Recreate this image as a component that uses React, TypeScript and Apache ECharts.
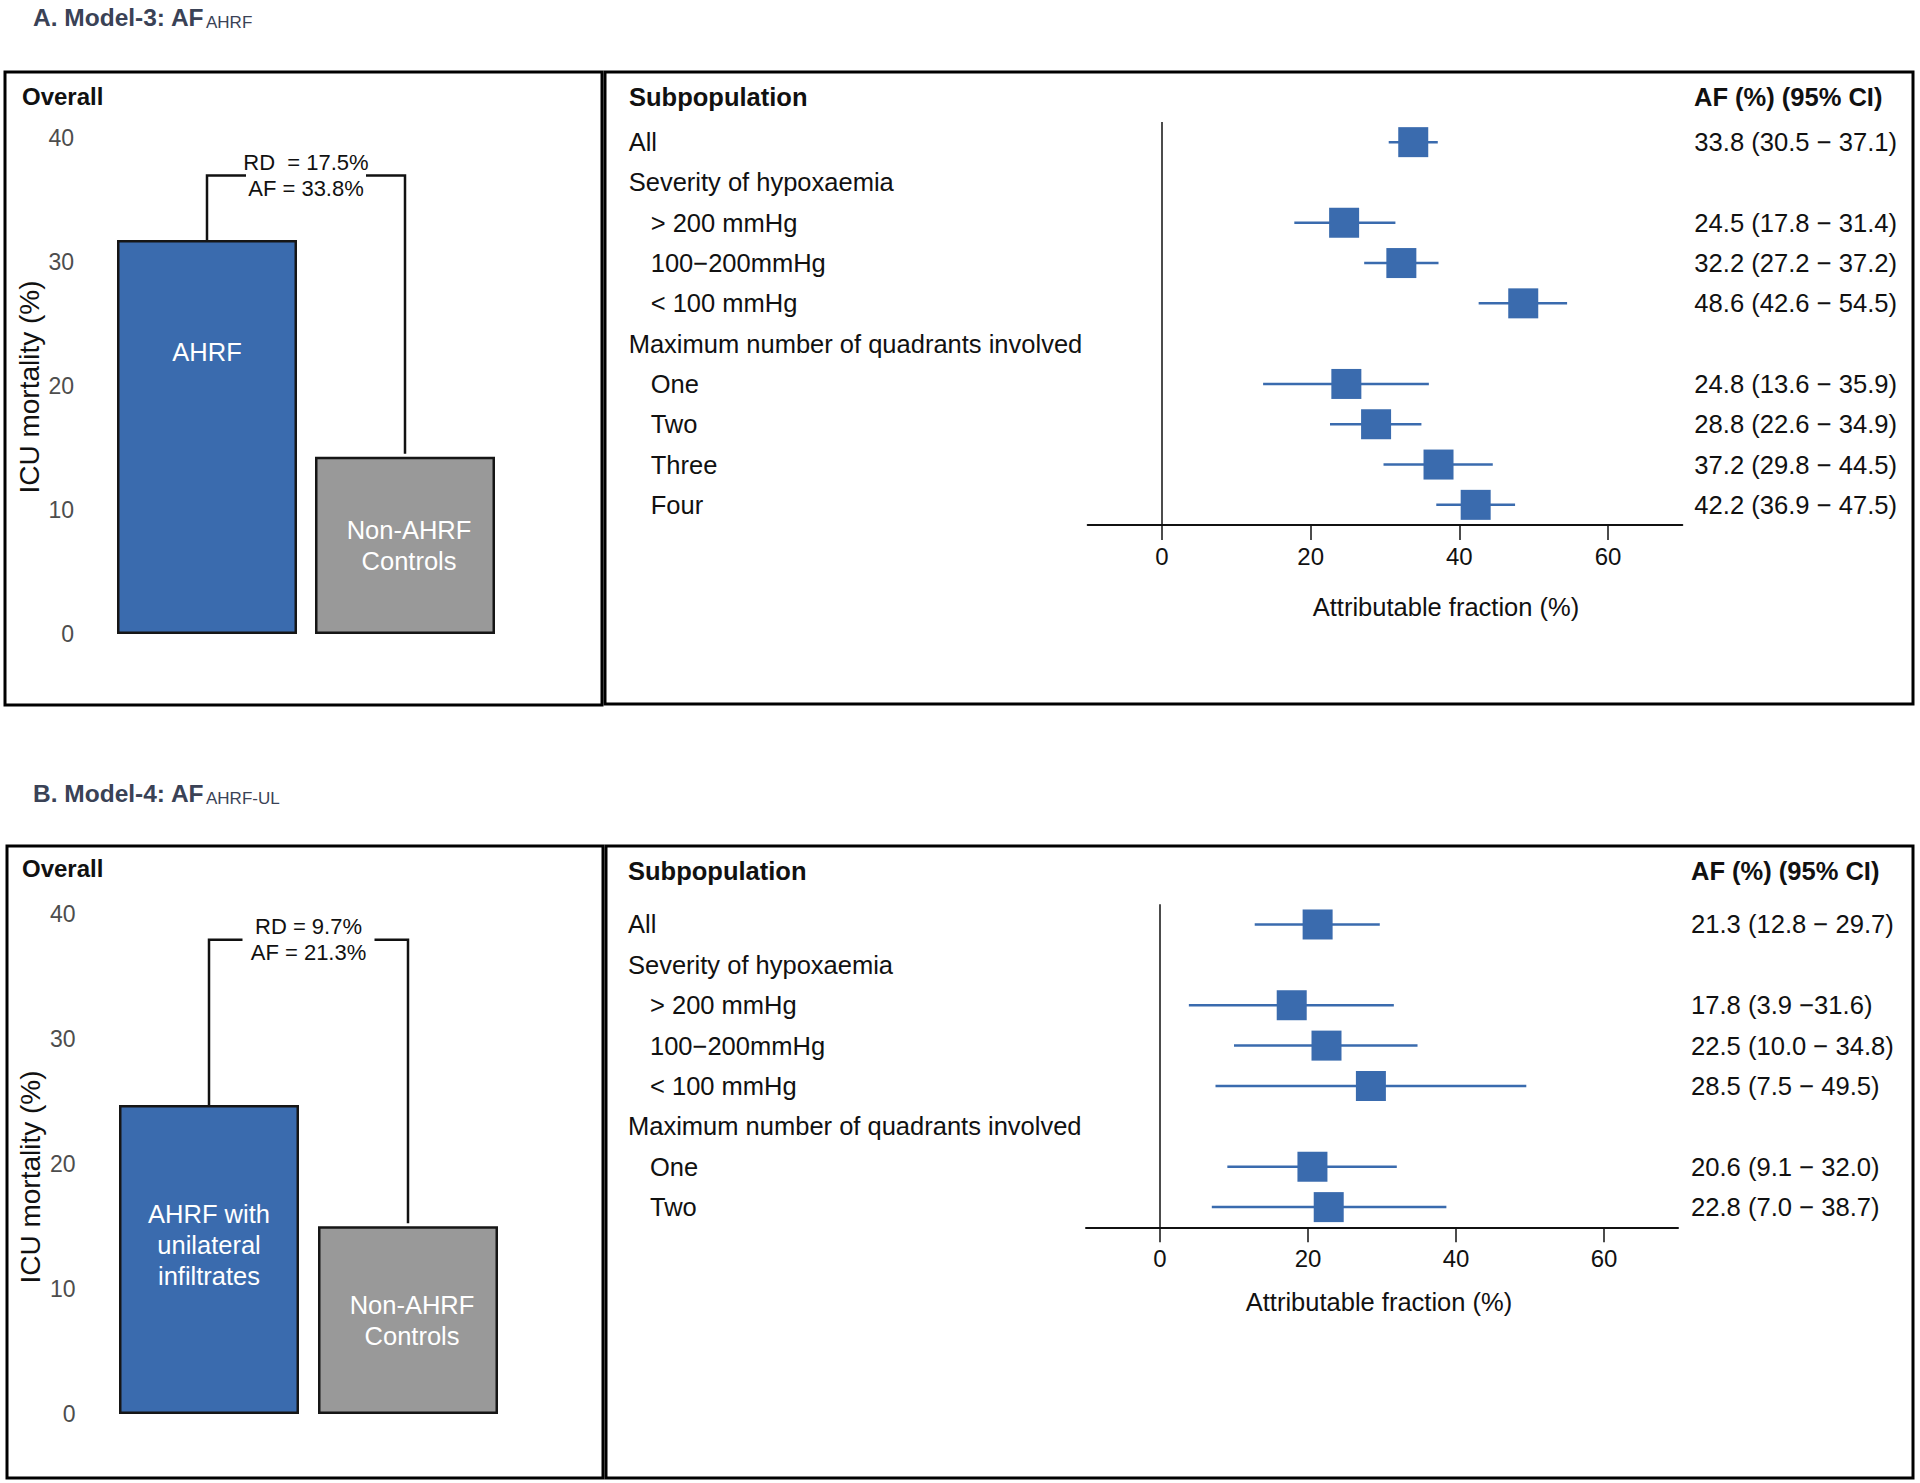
import React, { useEffect, useRef } from 'react';
import * as echarts from 'echarts';

const FONT = '"Liberation Sans", Arial, Helvetica, sans-serif';
const BLUE = '#3a6bae';
const GREY = '#999999';
const INK = '#111111';

// ---------- Panel A (Model-3) ----------
const barCatsA = ['AHRF', 'Non-AHRF\nControls'];
const mortalityA = [31.8, 14.3];
const bracketLevelA = 37.0;
const bracketTextA = ['RD  = 17.5%', 'AF = 33.8%'];
const subgroupsA = [
  'All',
  'Severity of hypoxaemia',
  '> 200 mmHg',
  '100\u2212200mmHg',
  '< 100 mmHg',
  'Maximum number of quadrants involved',
  'One',
  'Two',
  'Three',
  'Four',
];
const indentA = [false, false, true, true, true, false, true, true, true, true];
const afEstA = [33.8, null, 24.5, 32.2, 48.6, null, 24.8, 28.8, 37.2, 42.2];
const afLowA = [30.5, null, 17.8, 27.2, 42.6, null, 13.6, 22.6, 29.8, 36.9];
const afHighA = [37.1, null, 31.4, 37.2, 54.5, null, 35.9, 34.9, 44.5, 47.5];
const ciLabelsA = [
  '33.8 (30.5 \u2212 37.1)',
  '',
  '24.5 (17.8 \u2212 31.4)',
  '32.2 (27.2 \u2212 37.2)',
  '48.6 (42.6 \u2212 54.5)',
  '',
  '24.8 (13.6 \u2212 35.9)',
  '28.8 (22.6 \u2212 34.9)',
  '37.2 (29.8 \u2212 44.5)',
  '42.2 (36.9 \u2212 47.5)',
];

// ---------- Panel B (Model-4) ----------
const barCatsB = ['AHRF with\nunilateral\ninfiltrates', 'Non-AHRF\nControls'];
const mortalityB = [24.7, 15.0];
const bracketLevelB = 37.9;
const bracketTextB = ['RD = 9.7%', 'AF = 21.3%'];
const subgroupsB = [
  'All',
  'Severity of hypoxaemia',
  '> 200 mmHg',
  '100\u2212200mmHg',
  '< 100 mmHg',
  'Maximum number of quadrants involved',
  'One',
  'Two',
];
const indentB = [false, false, true, true, true, false, true, true];
const afEstB = [21.3, null, 17.8, 22.5, 28.5, null, 20.6, 22.8];
const afLowB = [12.8, null, 3.9, 10.0, 7.5, null, 9.1, 7.0];
const afHighB = [29.7, null, 31.6, 34.8, 49.5, null, 32.0, 38.7];
const ciLabelsB = [
  '21.3 (12.8 \u2212 29.7)',
  '',
  '17.8 (3.9 \u221231.6)',
  '22.5 (10.0 \u2212 34.8)',
  '28.5 (7.5 \u2212 49.5)',
  '',
  '20.6 (9.1 \u2212 32.0)',
  '22.8 (7.0 \u2212 38.7)',
];

const afTicks = [0, 20, 40, 60];

function forestRows(est: (number | null)[], lo: (number | null)[], hi: (number | null)[]) {
  const rows: number[][] = [];
  est.forEach((e, i) => {
    if (e !== null) rows.push([i, lo[i] as number, e, hi[i] as number]);
  });
  return rows;
}

function forestRender(size: number) {
  return (params: any, api: any) => {
    const row = api.value(0);
    const a = api.coord([api.value(1), row]);
    const e = api.coord([api.value(2), row]);
    const b = api.coord([api.value(3), row]);
    return {
      type: 'group',
      children: [
        { type: 'line', shape: { x1: a[0], y1: a[1], x2: b[0], y2: b[1] }, style: { stroke: BLUE, lineWidth: 2.5 } },
        { type: 'rect', shape: { x: e[0] - size / 2, y: e[1] - size / 2, width: size, height: size }, style: { fill: BLUE } },
      ],
    };
  };
}

function bracketRender(texts: string[], gapHalf: number) {
  return (params: any, api: any) => {
    const level = api.value(3);
    const baseL = api.coord([0, api.value(1)]);
    const baseR = api.coord([1, api.value(2)]);
    const topL = api.coord([0, level]);
    const topR = api.coord([1, level]);
    const mid = (topL[0] + topR[0]) / 2;
    const y = topL[1];
    const ls = { stroke: INK, lineWidth: 2.5, fill: 'none' };
    const ts = (t: string) => ({ text: t, fill: INK, fontSize: 22, fontFamily: FONT, align: 'center', verticalAlign: 'middle' });
    return {
      type: 'group',
      children: [
        { type: 'polyline', shape: { points: [[baseL[0], baseL[1]], [topL[0], y], [mid - gapHalf, y]] }, style: ls },
        { type: 'polyline', shape: { points: [[mid + gapHalf, y], [topR[0], y], [baseR[0], baseR[1] - 3]] }, style: ls },
        { type: 'text', x: mid, y: y - 13, style: ts(texts[0]) },
        { type: 'text', x: mid, y: y + 13, style: ts(texts[1]) },
      ],
    };
  };
}

function barData(vals: number[], firstLabelOffset: number) {
  return vals.map((v, i) => ({
    value: v,
    itemStyle: { color: i === 0 ? BLUE : GREY, borderColor: '#161616', borderWidth: 2.5 },
    label:
      i === 0
        ? { position: ['50%', firstLabelOffset], align: 'center', verticalAlign: 'middle' }
        : { position: 'inside', offset: [4, 0] },
  }));
}

const barLabel = {
  show: true,
  formatter: '{b}',
  color: '#ffffff',
  fontSize: 25.5,
  lineHeight: 31,
  fontFamily: FONT,
};

function barYAxis(grid: number) {
  return {
    type: 'value',
    gridIndex: grid,
    min: 0,
    max: 40,
    interval: 10,
    axisLine: { show: false },
    axisTick: { show: false },
    splitLine: { show: false },
    axisLabel: { fontSize: 23, color: '#4d4d4d', margin: 34, fontFamily: FONT },
  };
}

function afXAxis(grid: number) {
  return {
    type: 'value',
    gridIndex: grid,
    min: -10,
    max: 70,
    axisLine: { show: true, lineStyle: { color: INK, width: 2 } },
    axisTick: { show: true, customValues: afTicks, length: 15, inside: false, lineStyle: { color: INK, width: 1.5 } },
    axisLabel: { customValues: afTicks, fontSize: 24, color: INK, margin: 19, fontFamily: FONT },
    splitLine: { show: false },
  };
}

function labelYAxis(grid: number, cats: string[], indent: boolean[], margin: number) {
  return {
    type: 'category',
    gridIndex: grid,
    data: cats,
    inverse: true,
    position: 'left',
    axisLine: { show: false },
    axisTick: { show: false },
    axisLabel: {
      interval: 0,
      align: 'left',
      margin,
      formatter: (v: string, i: number) => (indent[i] ? `{i|${v}}` : `{m|${v}}`),
      rich: {
        m: { fontSize: 25.5, color: INK, fontFamily: FONT },
        i: { fontSize: 25.5, color: INK, fontFamily: FONT, padding: [0, 0, 0, 22] },
      },
    },
  };
}

function ciYAxis(grid: number, labels: string[], margin: number) {
  return {
    type: 'category',
    gridIndex: grid,
    data: labels,
    inverse: true,
    position: 'right',
    axisLine: { show: false },
    axisTick: { show: false },
    axisLabel: { interval: 0, align: 'left', margin, fontSize: 25.6, color: INK, fontFamily: FONT },
  };
}

function txt(text: string, x: number, y: number, extra: any = {}) {
  return {
    type: 'text',
    x,
    y,
    silent: true,
    style: {
      text,
      fill: INK,
      fontSize: 25.5,
      fontFamily: FONT,
      align: 'left',
      verticalAlign: 'middle',
      ...extra,
    },
  };
}

function box(x: number, y: number, w: number, h: number) {
  return {
    type: 'rect',
    silent: true,
    z: -10,
    shape: { x, y, width: w, height: h },
    style: { fill: 'none', stroke: '#000', lineWidth: 3 },
  };
}

export default function App() {
  const ref = useRef<HTMLDivElement>(null);
  useEffect(() => {
    if (!ref.current) return;
    const chart = echarts.init(ref.current, undefined, { renderer: 'svg' });
    const titleColor = '#3a4256';
    const yTitle = (x: number, y: number) => ({
      type: 'text',
      x,
      y,
      rotation: Math.PI / 2,
      silent: true,
      style: { text: 'ICU mortality (%)', fill: INK, fontSize: 28, fontFamily: FONT, align: 'center', verticalAlign: 'middle' },
    });
    const option: any = {
      animation: false,
      backgroundColor: '#ffffff',
      textStyle: { fontFamily: FONT },
      grid: [
        { left: 108, top: 138.4, width: 396, height: 495.6 },
        { left: 1087.7, top: 122, width: 594.6, height: 403 },
        { left: 109.5, top: 913.5, width: 398, height: 500.5 },
        { left: 1086, top: 904.3, width: 592, height: 323 },
      ],
      xAxis: [
        { type: 'category', gridIndex: 0, data: barCatsA, show: false },
        afXAxis(1),
        { type: 'category', gridIndex: 2, data: barCatsB, show: false },
        afXAxis(3),
      ],
      yAxis: [
        barYAxis(0),
        labelYAxis(1, subgroupsA, indentA, 459),
        ciYAxis(1, ciLabelsA, 12),
        barYAxis(2),
        labelYAxis(3, subgroupsB, indentB, 458),
        ciYAxis(3, ciLabelsB, 13),
      ],
      series: [
        {
          type: 'bar',
          xAxisIndex: 0,
          yAxisIndex: 0,
          barWidth: 180,
          data: barData(mortalityA, 112),
          label: barLabel,
          silent: true,
        },
        {
          type: 'custom',
          xAxisIndex: 0,
          yAxisIndex: 0,
          silent: true,
          data: [[0, mortalityA[0], mortalityA[1], bracketLevelA]],
          renderItem: bracketRender(bracketTextA, 60),
        },
        {
          type: 'custom',
          xAxisIndex: 1,
          yAxisIndex: 1,
          silent: true,
          encode: { x: [1, 2, 3], y: 0 },
          data: forestRows(afEstA, afLowA, afHighA),
          renderItem: forestRender(30),
          markLine: {
            silent: true,
            symbol: 'none',
            label: { show: false },
            lineStyle: { color: INK, width: 1.5, type: 'solid' },
            data: [{ xAxis: 0 }],
          },
        },
        {
          type: 'bar',
          xAxisIndex: 2,
          yAxisIndex: 3,
          barWidth: 180,
          data: barData(mortalityB, 140),
          label: barLabel,
          silent: true,
        },
        {
          type: 'custom',
          xAxisIndex: 2,
          yAxisIndex: 3,
          silent: true,
          data: [[0, mortalityB[0], mortalityB[1], bracketLevelB]],
          renderItem: bracketRender(bracketTextB, 66),
        },
        {
          type: 'custom',
          xAxisIndex: 3,
          yAxisIndex: 4,
          silent: true,
          encode: { x: [1, 2, 3], y: 0 },
          data: forestRows(afEstB, afLowB, afHighB),
          renderItem: forestRender(30),
          markLine: {
            silent: true,
            symbol: 'none',
            label: { show: false },
            lineStyle: { color: INK, width: 1.5, type: 'solid' },
            data: [{ xAxis: 0 }],
          },
        },
      ],
      graphic: [
        box(5, 72, 597, 633),
        box(605, 72, 1308, 632),
        box(7, 846, 596, 632),
        box(606, 846, 1307, 632),
        txt('A. Model-3: AF', 33, 17, { fontSize: 24.5, fontWeight: 'bold', fill: titleColor }),
        txt('AHRF', 206, 22, { fontSize: 17, fill: titleColor }),
        txt('B. Model-4: AF', 33, 793, { fontSize: 24.5, fontWeight: 'bold', fill: titleColor }),
        txt('AHRF-UL', 206, 798, { fontSize: 17, fill: titleColor }),
        txt('Overall', 22, 96, { fontSize: 24, fontWeight: 'bold' }),
        txt('Overall', 22, 868, { fontSize: 24, fontWeight: 'bold' }),
        txt('Subpopulation', 629, 97, { fontWeight: 'bold' }),
        txt('AF (%) (95% CI)', 1694, 97, { fontWeight: 'bold' }),
        txt('Subpopulation', 628, 871, { fontWeight: 'bold' }),
        txt('AF (%) (95% CI)', 1691, 871, { fontWeight: 'bold' }),
        yTitle(29, 387),
        yTitle(30, 1177),
        txt('Attributable fraction (%)', 1446, 607, { align: 'center' }),
        txt('Attributable fraction (%)', 1379, 1302, { align: 'center' }),
      ],
    };
    chart.setOption(option);
    return () => chart.dispose();
  }, []);
  return (
    <div
      ref={ref}
      style={{ position: 'absolute', left: 0, top: 0, width: 1920, height: 1483, background: '#fff' }}
    />
  );
}
